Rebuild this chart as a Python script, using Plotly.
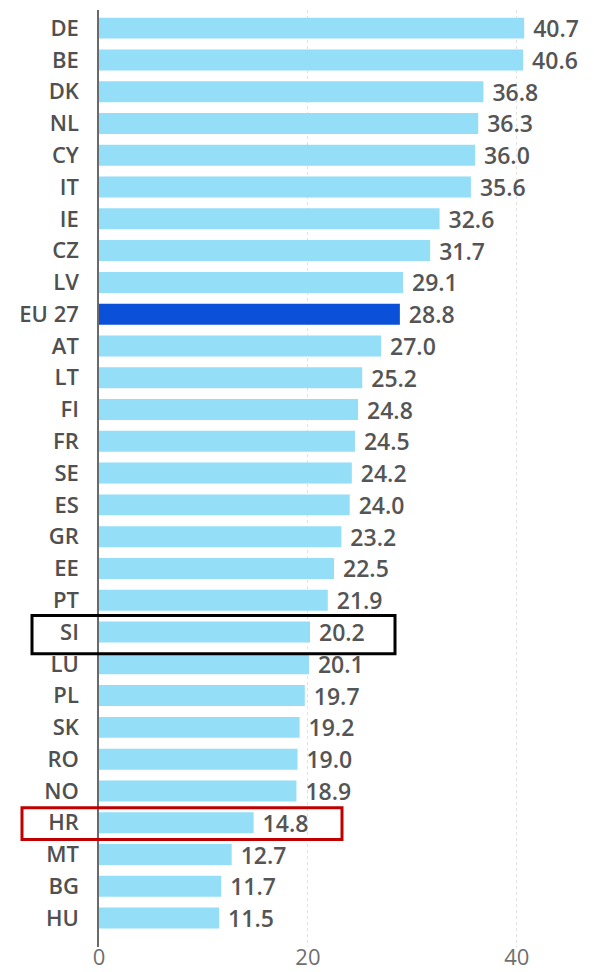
import plotly.graph_objects as go

countries = ["DE", "BE", "DK", "NL", "CY", "IT", "IE", "CZ", "LV", "EU 27",
             "AT", "LT", "FI", "FR", "SE", "ES", "GR", "EE", "PT", "SI",
             "LU", "PL", "SK", "RO", "NO", "HR", "MT", "BG", "HU"]
values = [40.7, 40.6, 36.8, 36.3, 36.0, 35.6, 32.6, 31.7, 29.1, 28.8,
          27.0, 25.2, 24.8, 24.5, 24.2, 24.0, 23.2, 22.5, 21.9, 20.2,
          20.1, 19.7, 19.2, 19.0, 18.9, 14.8, 12.7, 11.7, 11.5]
x_ticks = [0, 20, 40]

LIGHT = "#94def8"
DARK = "#0b50d8"
colors = [DARK if c == "EU 27" else LIGHT for c in countries]

FONT = "Open Sans, Liberation Sans, Arial"

fig = go.Figure(go.Bar(
    x=values, y=countries, orientation="h",
    marker=dict(color=colors, line=dict(width=0)),
    text=values, texttemplate=" %{x:.1f}", textposition="outside",
    constraintext="none",
    textfont=dict(family=FONT, size=23, color="#555555", weight=600),
    cliponaxis=False,
))

# page offset of the figure div (default body margin)
OFF = 8
W, H = 594 - OFF, 972 - OFF
L, R = 99 - OFF, 4
plot_w = W - L - R
def px_to_paper(px):
    return (px - OFF - L) / plot_w

idx_si = countries.index("SI")
idx_hr = countries.index("HR")
fig.add_shape(type="rect", xref="paper", yref="y",
              x0=px_to_paper(32), x1=px_to_paper(395),
              y0=idx_si - 0.52, y1=idx_si + 0.68,
              line=dict(color="black", width=3), fillcolor="rgba(0,0,0,0)")
fig.add_shape(type="rect", xref="paper", yref="y",
              x0=px_to_paper(22), x1=px_to_paper(342),
              y0=idx_hr - 0.47, y1=idx_hr + 0.53,
              line=dict(color="#c00000", width=3), fillcolor="rgba(0,0,0,0)")

fig.update_layout(
    width=W, height=H,
    margin=dict(l=L, r=R, t=10 - OFF, b=25),
    paper_bgcolor="white", plot_bgcolor="white",
    bargap=0.34,
    showlegend=False,
    font=dict(family=FONT, color="#555555"),
)
fig.update_xaxes(
    range=[0, 47], tickvals=x_ticks, ticktext=[str(t) for t in x_ticks],
    showgrid=True, gridcolor="#e2e2e2", griddash="dot", gridwidth=1,
    zeroline=False, showline=False, ticks="", automargin=False,
    ticklabelstandoff=-5,
    tickfont=dict(size=22, color="#707070", family=FONT),
)
fig.update_yaxes(
    categoryorder="array", categoryarray=countries,
    range=[len(countries) - 1 + 0.91, -0.57],
    showline=True, linecolor="#6a6a6a", linewidth=1.5,
    ticks="", ticklabelstandoff=14, automargin=False,
    tickfont=dict(size=22, color="#505050", family=FONT, weight=600),
)

fig.write_html("out.html")
